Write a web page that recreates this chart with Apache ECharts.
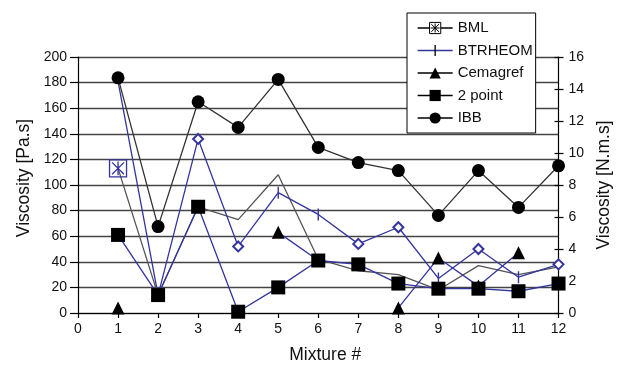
<!DOCTYPE html>
<html>
<head>
<meta charset="utf-8">
<script src="https://cdn.jsdelivr.net/npm/echarts@6/dist/echarts.min.js"></script>
<style>html,body{margin:0;padding:0;background:#fff;}#c{width:621px;height:369px;}</style>
</head>
<body>
<div id="c"></div>
<script>
// Data
var mixtures = [1, 2, 3, 4, 5, 6, 7, 8, 9, 10, 11, 12];
var bml      = [113, 14, 83, 73, 108, 42, 33, 30, 18, 37, 30, 36];          // Pa.s
var btrheom  = [181, 14, 136, 52, 94, 77, 54, 67, 27, 50, 28, 38];          // Pa.s
var cemagref = [4, null, null, null, 63, 41, null, 4, 43, 21, 47, null];    // Pa.s
var twoPoint = [61, 14, 83, 1, 20, 41, 38, 23, 19, 19, 17, 23];             // Pa.s
var ibb      = [14.7, 5.4, 13.2, 11.6, 14.6, 10.35, 9.4, 8.9, 6.1, 8.9, 6.6, 9.2]; // N.m.s
// marker type per point for BTRHEOM: 'n' none, 't' tick, 'd' open diamond
var btrheomMarks = ['n', 'n', 'd', 'd', 't', 't', 'd', 'd', 't', 'd', 't', 'd'];
var xTicks = [0, 1, 2, 3, 4, 5, 6, 7, 8, 9, 10, 11, 12];
var leftTicks = [0, 20, 40, 60, 80, 100, 120, 140, 160, 180, 200];
var rightTicks = [0, 2, 4, 6, 8, 10, 12, 14, 16];

var BLUE = '#34349e';
var FONT = "'Liberation Sans', Arial, sans-serif";
var BML_SYM = 'path://M0,0H20V20H0Z M3,3L17,17 M17,3L3,17 M10,2V18 M2,10H18';
var TICK_SYM = 'path://M5.3,0H6.7V12H5.3Z M0,6H0.01V6.01H0Z M12,6H11.99V6.01H12Z';

function pairs(arr) {
  return mixtures.map(function (m, i) { return [m, arr[i]]; });
}

var bmlData = mixtures.map(function (m, i) {
  if (i === 0) {
    return { value: [m, bml[i]], symbol: 'path://M0,0H20V20H0Z M3,3L17,17 M17,3L3,17 M10,2V18', symbolSize: 17,
      itemStyle: { color: 'rgba(0,0,0,0)', borderColor: BLUE, borderWidth: 1.3 } };
  }
  return { value: [m, bml[i]], symbol: 'none' };
});

var btrData = mixtures.map(function (m, i) {
  var k = btrheomMarks[i];
  if (k === 'n') return { value: [m, btrheom[i]], symbol: 'none' };
  if (k === 'd') return { value: [m, btrheom[i]], symbol: 'emptyDiamond', symbolSize: 10,
    itemStyle: { color: BLUE, borderColor: BLUE, borderWidth: 1.2 } };
  return { value: [m, btrheom[i]], itemStyle: { color: BLUE } };
});

var chart = echarts.init(document.getElementById('c'), null, { renderer: 'canvas' });
chart.setOption({
  backgroundColor: '#fff',
  animation: false,
  textStyle: { fontFamily: FONT },
  grid: { left: 78, right: 60, top: 57, bottom: 51 },
  legend: {
    orient: 'vertical',
    left: 407, top: 13,
    padding: [7, 3, 7, 10],
    itemWidth: 35, itemHeight: 14, itemGap: 6.5,
    backgroundColor: '#fff',
    borderColor: '#000', borderWidth: 1, borderRadius: 0,
    textStyle: { fontSize: 15, color: '#111', lineHeight: 16, fontFamily: FONT },
    data: [
      { name: 'BML', itemStyle: { color: '#fff', borderColor: '#000', borderWidth: 1 }, lineStyle: { color: '#000', width: 1.3 } },
      { name: 'BTRHEOM', itemStyle: { color: '#000' }, lineStyle: { color: BLUE, width: 1.3 } },
      { name: 'Cemagref', itemStyle: { color: '#000' }, lineStyle: { color: '#000', width: 1.3 } },
      { name: '2 point', itemStyle: { color: '#000' }, lineStyle: { color: '#000', width: 1.3 } },
      { name: 'IBB', itemStyle: { color: '#000' }, lineStyle: { color: '#000', width: 1.3 } }
    ]
  },
  xAxis: {
    type: 'value', min: xTicks[0], max: xTicks[xTicks.length - 1], interval: 1,
    name: 'Mixture #', nameLocation: 'middle', nameGap: 33,
    nameTextStyle: { fontSize: 17.5, color: '#111', padding: [0, 0, 0, 14] },
    axisLine: { show: true, onZero: false, lineStyle: { color: '#000', width: 1.2 } },
    axisTick: { show: true, length: 5, lineStyle: { color: '#000', width: 1.2 } },
    axisLabel: { fontSize: 14, color: '#111', margin: 9 },
    splitLine: { show: false }
  },
  yAxis: [
    {
      type: 'value', position: 'left', min: leftTicks[0], max: leftTicks[leftTicks.length - 1], interval: 20,
      name: 'Viscosity [Pa.s]', nameLocation: 'middle', nameGap: 45,
      nameTextStyle: { fontSize: 17.5, color: '#111', padding: [0, 0, 0, 14] },
      axisLine: { show: true, lineStyle: { color: '#000', width: 1.2 } },
      axisTick: { show: true, length: 8, lineStyle: { color: '#000', width: 1.2 } },
      axisLabel: { fontSize: 14, color: '#111', margin: 11 },
      splitLine: { show: true, lineStyle: { color: '#444', width: 1.4 } }
    },
    {
      type: 'value', position: 'right', min: rightTicks[0], max: rightTicks[rightTicks.length - 1], interval: 2,
      name: 'Viscosity [N.m.s]', nameLocation: 'middle', nameGap: 34,
      nameTextStyle: { fontSize: 17.5, color: '#111' },
      axisLine: { show: true, lineStyle: { color: '#000', width: 1.2 } },
      axisTick: { show: true, length: 5, lineStyle: { color: '#000', width: 1.2 } },
      axisLabel: { fontSize: 14, color: '#111', margin: 10 },
      splitLine: { show: false }
    },
    {
      type: 'value', position: 'right', min: rightTicks[0], max: rightTicks[rightTicks.length - 1], interval: 2,
      axisLine: { show: false },
      axisTick: { show: true, inside: true, length: 4, lineStyle: { color: '#000', width: 1.2 } },
      axisLabel: { show: false },
      splitLine: { show: false }
    }
  ],
  series: [
    {
      name: 'BML', type: 'line', yAxisIndex: 0, z: 3,
      symbol: BML_SYM, symbolSize: 14, showAllSymbol: true,
      itemStyle: { color: '#000' },
      lineStyle: { color: '#555', width: 1.3 },
      data: bmlData
    },
    {
      name: 'BTRHEOM', type: 'line', yAxisIndex: 0, z: 4,
      symbol: TICK_SYM, symbolSize: 12, showAllSymbol: true,
      itemStyle: { color: '#000' },
      lineStyle: { color: BLUE, width: 1.3 },
      data: btrData
    },
    {
      name: 'Cemagref', type: 'line', yAxisIndex: 0, z: 5,
      symbol: 'triangle', symbolSize: 13, showAllSymbol: true, connectNulls: false,
      itemStyle: { color: '#000' },
      lineStyle: { color: BLUE, width: 1.3 },
      data: pairs(cemagref)
    },
    {
      name: '2 point', type: 'line', yAxisIndex: 0, z: 6,
      symbol: 'rect', symbolSize: 14, showAllSymbol: true,
      itemStyle: { color: '#000' },
      lineStyle: { color: BLUE, width: 1.3 },
      data: pairs(twoPoint)
    },
    {
      name: 'IBB', type: 'line', yAxisIndex: 1, z: 7,
      symbol: 'circle', symbolSize: 13, showAllSymbol: true,
      itemStyle: { color: '#000' },
      lineStyle: { color: '#333', width: 1.3 },
      data: pairs(ibb)
    }
  ]
});
</script>
</body>
</html>
